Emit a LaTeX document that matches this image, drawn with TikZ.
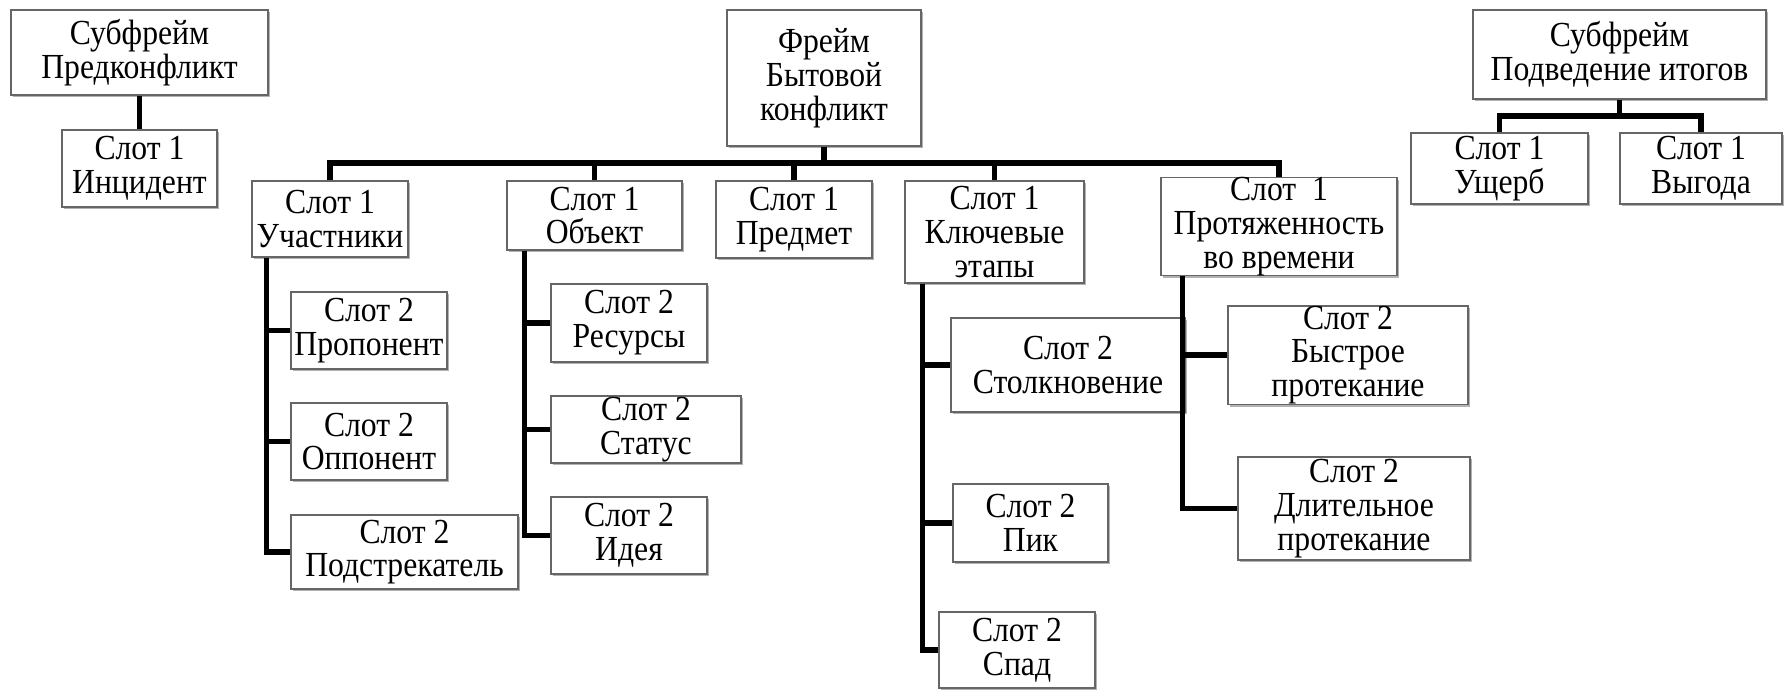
\documentclass[tikz,border=0pt]{standalone}
\usepackage{fontspec}
\setmainfont{Liberation Serif}[FakeStretch=0.9]
\usetikzlibrary{shadows}
\begin{document}
\begin{tikzpicture}[x=0.5pt,y=-0.5pt,
  box/.style={draw=black!60, line width=0.7pt, fill=white, inner sep=0pt, align=center,
    font=\rmfamily\fontsize{17.6pt}{16.9pt}\selectfont,
    drop shadow={shadow xshift=1.2pt, shadow yshift=-1.2pt, fill=black, opacity=0.3}},
  conn/.style={line width=2.7pt, black, line join=miter}]
\useasboundingbox (0,0) rectangle (1784,691);
% top-level boxes
\node[box, minimum width=128.5pt, minimum height=42.5pt] (pk) at (139.5,52.5) {Субфрейм\\Предконфликт};
\node[box, minimum width=77.5pt, minimum height=38.5pt] (inc) at (139.5,168.5) {Слот 1\\Инцидент};
\node[box, minimum width=97pt, minimum height=68pt] (fr) at (824,78) {Фрейм\\Бытовой\\конфликт};
\node[box, minimum width=78pt, minimum height=38pt] (uch) at (330,219) {Слот 1\\Участники};
\node[box, minimum width=87.5pt, minimum height=34.5pt] (obj) at (594.5,215.5) {Слот 1\\Объект};
\node[box, minimum width=78pt, minimum height=38.5pt] (pred) at (794,219.5) {Слот 1\\Предмет};
\node[box, minimum width=89.5pt, minimum height=51pt] (key) at (994.5,232) {Слот 1\\Ключевые\\этапы};
\node[box, minimum width=118pt, minimum height=45.5pt] (prot) at (1279,226.5) {Слот~~1\\Протяженность\\во времени};
\node[box, minimum width=146.5pt, minimum height=44.5pt] (pi) at (1619.5,54.5) {Субфрейм\\Подведение итогов};
\node[box, minimum width=88.5pt, minimum height=35.5pt] (ush) at (1499.5,168.5) {Слот 1\\Ущерб};
\node[box, minimum width=81pt, minimum height=35.5pt] (vyg) at (1701,168.5) {Слот 1\\Выгода};
% level 2
\node[box, minimum width=78pt, minimum height=38.5pt] (prop) at (369,330.5) {Слот 2\\Пропонент};
\node[box, minimum width=78pt, minimum height=38.5pt] (opp) at (369,441.5) {Слот 2\\Оппонент};
\node[box, minimum width=113.5pt, minimum height=37pt] (podstr) at (404.5,552) {Слот 2\\Подстрекатель};
\node[box, minimum width=78pt, minimum height=39pt] (res) at (629,323) {Слот 2\\Ресурсы};
\node[box, minimum width=95pt, minimum height=33.5pt] (stat) at (646,429.5) {Слот 2\\Статус};
\node[box, minimum width=78pt, minimum height=38.5pt] (idea) at (629,535.5) {Слот 2\\Идея};
\node[box, minimum width=117pt, minimum height=47pt] (stolk) at (1068,365) {Слот 2\\Столкновение};
\node[box, minimum width=77.5pt, minimum height=39pt] (pik) at (1030.5,523) {Слот 2\\Пик};
\node[box, minimum width=78pt, minimum height=38pt] (spad) at (1017,650) {Слот 2\\Спад};
\node[box, minimum width=120pt, minimum height=47pt] (bystr) at (1348,355) {Слот 2\\Быстрое\\протекание};
\node[box, minimum width=116pt, minimum height=51.5pt] (dlit) at (1354,508.5) {Слот 2\\Длительное\\протекание};
% connectors: left subframe
\draw[conn] (pk.south) -- (inc.north);
% main frame bar
\coordinate (bar) at (0,163);
\draw[conn] (fr.south) -- (fr.south |- bar);
\draw[conn] (uch.north) -- (uch.north |- bar) -- (prot.north |- bar) -- (prot.north);
\draw[conn] (obj.north) -- (obj.north |- bar);
\draw[conn] (pred.north) -- (pred.north |- bar);
\draw[conn] (key.north) -- (key.north |- bar);
% right subframe
\coordinate (bar2) at (0,116);
\draw[conn] (pi.south) -- (pi.south |- bar2);
\draw[conn] (ush.north) -- (ush.north |- bar2) -- (vyg.north |- bar2) -- (vyg.north);
% spines
\coordinate (s1) at ([xshift=7.5pt]uch.south west);
\draw[conn] (s1) |- (podstr.west);
\draw[conn] (prop.west) -- (prop.west -| s1);
\draw[conn] (opp.west) -- (opp.west -| s1);
\coordinate (s2) at ([xshift=9pt]obj.south west);
\draw[conn] (s2) |- (idea.west);
\draw[conn] (res.west) -- (res.west -| s2);
\draw[conn] (stat.west) -- (stat.west -| s2);
\coordinate (s3) at ([xshift=9pt]key.south west);
\draw[conn] (s3) |- (spad.west);
\draw[conn] (stolk.west) -- (stolk.west -| s3);
\draw[conn] (pik.west) -- (pik.west -| s3);
\coordinate (s4) at ([xshift=11pt]prot.south west);
\draw[conn] (s4) |- (dlit.west);
\draw[conn] (bystr.west) -- (bystr.west -| s4);
\end{tikzpicture}
\end{document}
